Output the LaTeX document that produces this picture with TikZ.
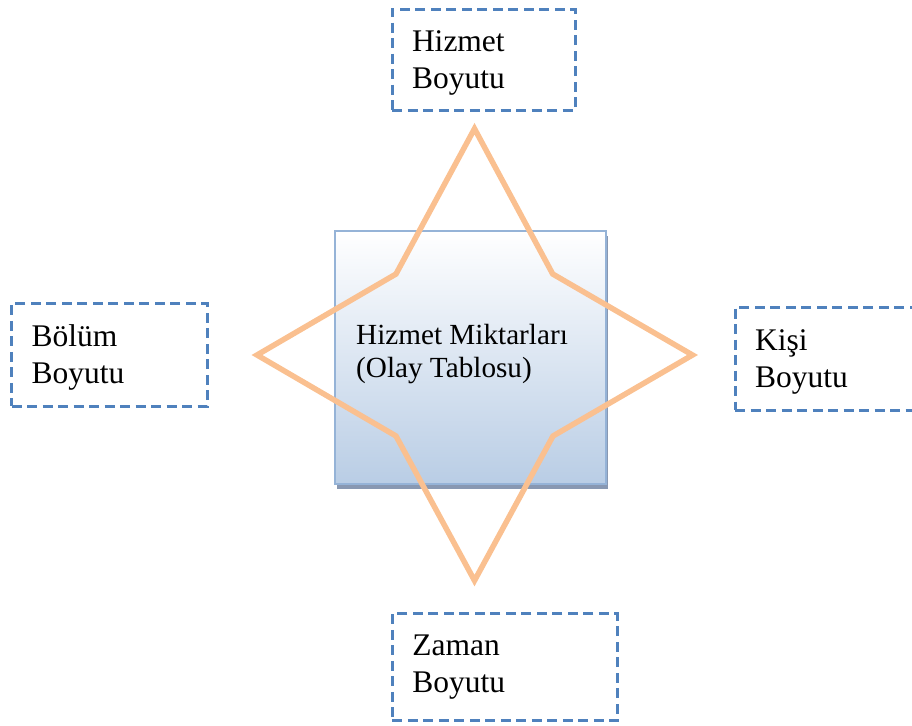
\documentclass[tikz,border=0pt]{standalone}
\usepackage{fontspec}
\setmainfont{Liberation Serif}
\usetikzlibrary{shadows}
\definecolor{dimblue}{RGB}{79,129,189}
\definecolor{hubedge}{RGB}{149,179,215}
\definecolor{hubfill}{RGB}{185,205,229}
\definecolor{hubshadow}{RGB}{136,152,178}
\definecolor{starline}{RGB}{250,192,144}
\newcommand{\topstrut}{\rule{0pt}{27pt}}
\begin{document}
\begin{tikzpicture}[x=1pt,y=-1pt,
  dimbox/.style={draw=dimblue, line width=3pt, dash pattern=on 10pt off 5.5pt,
    rectangle, align=left, inner xsep=20pt, inner ysep=0pt,
    font=\fontsize{31.5}{37.5}\selectfont},
  hub/.style={draw=hubedge, line width=2pt, rectangle, top color=white,
    bottom color=hubfill,
    drop shadow={shadow xshift=2.5pt, shadow yshift=-5pt, fill=hubshadow, opacity=1}},
  hubtext/.style={align=left, inner sep=0pt, font=\fontsize{29.2}{33.5}\selectfont},
  starpath/.style={draw=starline, line width=5.5pt, line join=miter}]
\useasboundingbox (0,0) rectangle (912,725);

% central fact table
\node[hub, minimum width=271pt, minimum height=253pt] (hub) at (470.4,357.5) {};

% four-pointed star over the table
\coordinate (tN)  at (474.5,128.7);
\coordinate (iNE) at (552.7,274);
\coordinate (tE)  at (692.5,355);
\coordinate (iSE) at (553,436);
\coordinate (tS)  at (474.5,580.6);
\coordinate (iSW) at (396,436);
\coordinate (tW)  at (257,355);
\coordinate (iNW) at (396,274);
\draw[starpath] (tN) -- (iNE) -- (tE) -- (iSE) -- (tS) -- (iSW) -- (tW) -- (iNW) -- cycle;

\node[hubtext, anchor=north west] (hubtxt) at (356,324) {Hizmet Miktarları\\(Olay Tablosu)};

% dimension boxes
\node[dimbox, minimum width=183pt, minimum height=101pt, text width=143pt] (hizmet) at (483.5,59.7) {\topstrut Hizmet\\Boyutu};
\node[dimbox, minimum width=195.6pt, minimum height=102.7pt, text width=155.6pt] (bolum) at (109.5,354.7) {\topstrut Bölüm\\Boyutu};
\node[dimbox, minimum width=196pt, minimum height=102.7pt, text width=156pt] (kisi) at (833,358.7) {\topstrut Kişi\\Boyutu};
\node[dimbox, minimum width=225.4pt, minimum height=106.7pt, text width=185.4pt] (zaman) at (505,667.3) {Zaman\\Boyutu};
\end{tikzpicture}
\end{document}
